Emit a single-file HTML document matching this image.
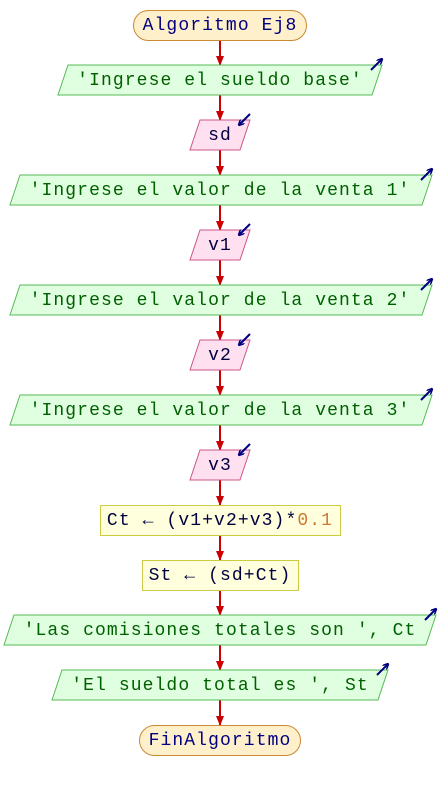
<!DOCTYPE html>
<html><head><meta charset="utf-8"><style>
html,body{margin:0;padding:0;background:#fff;width:440px;height:790px;overflow:hidden}
text{font-family:"Liberation Mono","DejaVu Sans Mono",monospace;font-size:18px;letter-spacing:1.1px;text-anchor:middle;dominant-baseline:central}
</style></head><body>
<svg width="440" height="790" viewBox="0 0 440 790" xmlns="http://www.w3.org/2000/svg">
<defs>
<marker id="ah" markerWidth="10" markerHeight="8" refX="9" refY="4" orient="auto" markerUnits="userSpaceOnUse">
<path d="M0,0 L10,4 L0,8 Z" fill="#cc0000"/></marker>
<marker id="bh" markerWidth="6" markerHeight="6" refX="5" refY="3" orient="auto" markerUnits="userSpaceOnUse">
<path d="M0,0 L6,3 L0,6" fill="none" stroke="#000080" stroke-width="1.5"/></marker>
</defs>
<g stroke="#cc0000" stroke-width="2" marker-end="url(#ah)">
<line x1="220" y1="40" x2="220" y2="65"/>
<line x1="220" y1="95" x2="220" y2="120"/>
<line x1="220" y1="150" x2="220" y2="175"/>
<line x1="220" y1="205" x2="220" y2="230"/>
<line x1="220" y1="260" x2="220" y2="285"/>
<line x1="220" y1="315" x2="220" y2="340"/>
<line x1="220" y1="370" x2="220" y2="395"/>
<line x1="220" y1="425" x2="220" y2="450"/>
<line x1="220" y1="480" x2="220" y2="505"/>
<line x1="220" y1="535" x2="220" y2="560"/>
<line x1="220" y1="590" x2="220" y2="615"/>
<line x1="220" y1="645" x2="220" y2="670"/>
<line x1="220" y1="700" x2="220" y2="725"/>
</g>
<rect x="133.5" y="10.5" width="173" height="30" rx="15" fill="#fff0cc" stroke="#cc8833"/>
<text x="220" y="26" fill="#000080">Algoritmo Ej8</text>
<g fill="#e0ffe0" stroke="#55bb55">
<polygon points="68,65 382,65 372,95 58,95"/>
<polygon points="20,175 432,175 422,205 10,205"/>
<polygon points="20,285 432,285 422,315 10,315"/>
<polygon points="20,395 432,395 422,425 10,425"/>
<polygon points="14,615 436,615 426,645 4,645"/>
<polygon points="62,670 388,670 378,700 52,700"/>
</g>
<g fill="#006000">
<text x="220" y="81">'Ingrese el sueldo base'</text>
<text x="220" y="191">'Ingrese el valor de la venta 1'</text>
<text x="220" y="301">'Ingrese el valor de la venta 2'</text>
<text x="220" y="411">'Ingrese el valor de la venta 3'</text>
<text x="220" y="631">'Las comisiones totales son ', Ct</text>
<text x="220" y="686">'El sueldo total es ', St</text>
</g>
<g fill="#ffe0f0" stroke="#cc5588">
<polygon points="200,120 250,120 240,150 190,150"/>
<polygon points="200,230 250,230 240,260 190,260"/>
<polygon points="200,340 250,340 240,370 190,370"/>
<polygon points="200,450 250,450 240,480 190,480"/>
</g>
<g fill="#000040">
<text x="220" y="136">sd</text>
<text x="220" y="246">v1</text>
<text x="220" y="356">v2</text>
<text x="220" y="466">v3</text>
</g>
<g stroke="#000080" stroke-width="2" marker-end="url(#bh)">
<line x1="371" y1="70" x2="382" y2="59"/>
<line x1="421" y1="180" x2="432" y2="169"/>
<line x1="421" y1="290" x2="432" y2="279"/>
<line x1="421" y1="400" x2="432" y2="389"/>
<line x1="425" y1="620" x2="436" y2="609"/>
<line x1="377" y1="675" x2="388" y2="664"/>
<line x1="250" y1="114" x2="239" y2="125"/>
<line x1="250" y1="224" x2="239" y2="235"/>
<line x1="250" y1="334" x2="239" y2="345"/>
<line x1="250" y1="444" x2="239" y2="455"/>
</g>
<rect x="100.5" y="505.5" width="240" height="30" fill="#ffffdd" stroke="#cccc44"/>
<text x="220" y="521" fill="#000040">Ct ← (v1+v2+v3)*<tspan fill="#cc7733">0.1</tspan></text>
<rect x="142.5" y="560.5" width="156" height="30" fill="#ffffdd" stroke="#cccc44"/>
<text x="220" y="576" fill="#000040">St ← (sd+Ct)</text>
<rect x="139.5" y="725.5" width="161" height="30" rx="15" fill="#fff0cc" stroke="#cc8833"/>
<text x="220" y="741" fill="#000080">FinAlgoritmo</text>
</svg>
</body></html>
